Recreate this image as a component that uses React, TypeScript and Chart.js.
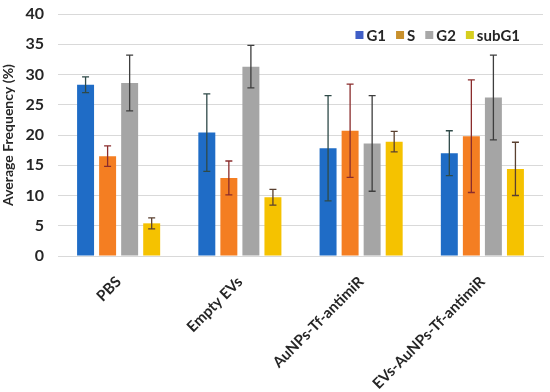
import React, { useEffect, useRef } from "react";
import { Chart, registerables } from "chart.js";

Chart.register(...registerables);

const categories = ["PBS", "Empty EVs", "AuNPs-Tf-antimiR", "EVs-AuNPs-Tf-antimiR"];
const seriesNames = ["G1", "S", "G2", "subG1"];
const g1Values = [28.3, 20.4, 17.8, 17.0];
const sValues = [16.5, 12.9, 20.7, 19.8];
const g2Values = [28.6, 31.3, 18.6, 26.2];
const subG1Values = [5.4, 9.7, 18.9, 14.4];
const g1Errors = [1.3, 6.4, 8.7, 3.7];
const sErrors = [1.7, 2.8, 7.7, 9.3];
const g2Errors = [4.6, 3.5, 7.9, 7.0];
const subG1Errors = [0.9, 1.3, 1.7, 4.4];
const yTicks = [0, 5, 10, 15, 20, 25, 30, 35, 40];

const barColors = ["#1F6CC6", "#F47E22", "#A5A5A5", "#F5C200"];
const legendColors = ["#3F5EC6", "#C8902C", "#A8A8A8", "#D6CE1E"];
const errorColors = ["#2F4A48", "#8A2C2C", "#3E3E3E", "#5A4030"];

const FONT = "Lato, 'DejaVu Sans', sans-serif";
const TEXT = "#262626";

const errorBarPlugin = {
  id: "errorBars",
  afterDatasetsDraw(chart: any) {
    const ctx = chart.ctx;
    const yScale = chart.scales.y;
    chart.data.datasets.forEach((ds: any, di: number) => {
      const meta = chart.getDatasetMeta(di);
      ds.data.forEach((v: number, i: number) => {
        const el = meta.data[i];
        const err = ds.errors[i];
        const top = yScale.getPixelForValue(v + err);
        const bot = yScale.getPixelForValue(v - err);
        const x = el.x;
        ctx.save();
        ctx.strokeStyle = ds.errorColor;
        ctx.lineWidth = 1.3;
        ctx.beginPath();
        ctx.moveTo(x, top);
        ctx.lineTo(x, bot);
        ctx.moveTo(x - 3.5, top);
        ctx.lineTo(x + 3.5, top);
        ctx.moveTo(x - 3.5, bot);
        ctx.lineTo(x + 3.5, bot);
        ctx.stroke();
        ctx.restore();
      });
    });
  },
};

const legendPlugin = {
  id: "innerLegend",
  afterDraw(chart: any) {
    const ctx = chart.ctx;
    const area = chart.chartArea;
    ctx.save();
    ctx.font = `bold 15px ${FONT}`;
    ctx.textBaseline = "middle";
    const box = 8;
    const gapBox = 3;
    const gapItem = 10;
    const widths = seriesNames.map((n) => box + gapBox + ctx.measureText(n).width);
    const total = widths.reduce((a, b) => a + b, 0) + gapItem * (seriesNames.length - 1);
    let x = area.right - 23 - total;
    const cy = area.top + 21;
    seriesNames.forEach((n, i) => {
      ctx.fillStyle = legendColors[i];
      ctx.fillRect(x, cy - box / 2, box, box);
      ctx.fillStyle = TEXT;
      ctx.fillText(n, x + box + gapBox, cy + 1);
      x += widths[i] + gapItem;
    });
    ctx.restore();
  },
};

export default function App() {
  const ref = useRef<HTMLCanvasElement>(null);
  useEffect(() => {
    if (!ref.current) return;
    const values = [g1Values, sValues, g2Values, subG1Values];
    const errors = [g1Errors, sErrors, g2Errors, subG1Errors];
    const chart = new Chart(ref.current, {
      type: "bar",
      data: {
        labels: categories,
        datasets: seriesNames.map((name, i) => ({
          label: name,
          data: values[i],
          errors: errors[i],
          errorColor: errorColors[i],
          backgroundColor: barColors[i],
          barPercentage: 0.77,
          categoryPercentage: 0.727,
        })) as any,
      },
      options: {
        animation: false,
        responsive: true,
        maintainAspectRatio: false,
        layout: { padding: { top: 14, right: 7, left: 0, bottom: 0 } },
        plugins: {
          legend: { display: false },
          tooltip: { enabled: false },
        },
        scales: {
          x: {
            grid: { display: false },
            border: { color: "#D9D9D9" },
            ticks: {
              color: TEXT,
              font: { family: FONT, size: 15, weight: "bold" },
              maxRotation: 45,
              minRotation: 45,
              padding: 9,
            },
            afterFit: (s: any) => {
              s.height = 136;
              s.paddingLeft = 0;
              s.paddingRight = 0;
            },
          },
          y: {
            min: 0,
            max: 40,
            afterBuildTicks: (s: any) => {
              s.ticks = yTicks.map((v) => ({ value: v }));
            },
            grid: { color: "#D9D9D9", drawTicks: false },
            border: { display: false },
            ticks: {
              color: TEXT,
              font: { family: FONT, size: 16, weight: "bold" },
              padding: 14,
            },
            title: {
              display: true,
              text: "Average Frequency (%)",
              color: TEXT,
              font: { family: FONT, size: 14, weight: "bold" },
              padding: 0,
            },
            afterFit: (s: any) => {
              s.width = 58;
              s.paddingTop = 0;
              s.paddingBottom = 0;
            },
          },
        },
      },
      plugins: [errorBarPlugin, legendPlugin],
    });
    return () => chart.destroy();
  }, []);
  return (
    <div style={{ position: "fixed", left: 0, top: 0, width: 550, height: 392, background: "#fff" }}>
      <canvas ref={ref} />
    </div>
  );
}
